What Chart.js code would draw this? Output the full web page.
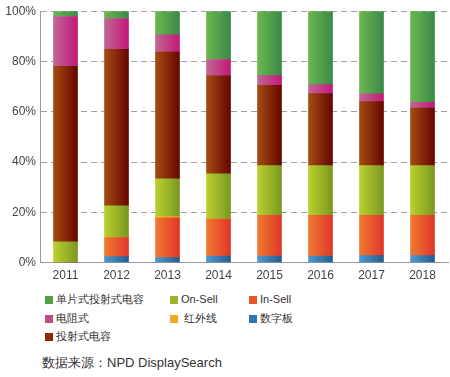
<!DOCTYPE html>
<html>
<head>
<meta charset="utf-8">
<script src="https://cdn.jsdelivr.net/npm/chart.js@4.4.0/dist/chart.umd.min.js"></script>
<style>
  body { margin: 0; background: #fff; font-family: "Liberation Sans", Arial, sans-serif; }
  #wrap { position: relative; width: 450px; height: 377px; overflow: hidden; }
  #stack-chart { position: absolute; left: 0; top: 0; }
  .leg { position: absolute; font-size: 11px; color: #333; line-height: 12px; white-space: nowrap; }
  .leg i { display: inline-block; width: 8px; height: 8px; margin-right: 3px; vertical-align: -1px; }
  #source { position: absolute; left: 42px; top: 354px; font-size: 13px; color: #333; white-space: nowrap; }
</style>
</head>
<body>
<div id="wrap">
  <canvas id="stack-chart" width="450" height="292"></canvas>
  <div id="legend"></div>
  <div id="source">数据来源：NPD DisplaySearch</div>
</div>
<script>
// years on the x axis
var years = ['2011', '2012', '2013', '2014', '2015', '2016', '2017', '2018'];

// share of each technology (%), stacked bottom -> top
var digitizer  = [0,    2.4,  2.0,  2.6,  2.6,  2.6,  2.8,  2.8];   // 数字板
var inCell     = [0,    7.6,  15.8, 14.7, 16.2, 16.2, 16.0, 16.0];  // In-Sell
var infrared   = [0,    0,    0.5,  0,    0,    0,    0,    0];     // 红外线
var onCell     = [8.3,  12.6, 15.0, 18.0, 19.8, 19.8, 19.8, 19.8];  // On-Sell
var projected  = [69.8, 62.2, 50.4, 39.0, 31.9, 28.6, 25.4, 22.9];  // 投射式电容
var resistive  = [19.8, 12.3, 6.9,  6.5,  3.9,  3.6,  3.1,  2.3];   // 电阻式
var singleLayer = [2.1, 2.9,  9.4,  19.2, 25.6, 29.2, 32.9, 36.2];  // 单片式投射式电容

var yTicks = [0, 20, 40, 60, 80, 100];

var BAR_W = 24;

// horizontal gradient across each bar
function grad(c1, c2) {
  return function(context) {
    var chart = context.chart;
    var xs = chart.scales.x;
    if (!chart.chartArea || !xs) return c1;
    var x = xs.getPixelForValue(context.dataIndex);
    var g = chart.ctx.createLinearGradient(x - BAR_W / 2, 0, x + BAR_W / 2, 0);
    g.addColorStop(0, c1);
    g.addColorStop(1, c2);
    return g;
  };
}

var series = [
  { label: '数字板', data: digitizer, c1: '#4f98d0', c2: '#245d8e', sw: '#2f77b2' },
  { label: 'In-Sell', data: inCell, c1: '#f07a30', c2: '#e0362a', sw: '#ea5428' },
  { label: '红外线', data: infrared, c1: '#f6c030', c2: '#eea020', sw: '#f0aa20' },
  { label: 'On-Sell', data: onCell, c1: '#bcd030', c2: '#7a9820', sw: '#9cb42a' },
  { label: '投射式电容', data: projected, c1: '#a44c12', c2: '#660600', sw: '#8a2a08' },
  { label: '电阻式', data: resistive, c1: '#c06894', c2: '#c21878', sw: '#c04a86' },
  { label: '单片式投射式电容', data: singleLayer, c1: '#6cb650', c2: '#3a8a48', sw: '#4ea244' }
];

var ctx = document.getElementById('stack-chart').getContext('2d');

var chart = new Chart(ctx, {
  type: 'bar',
  data: {
    labels: years,
    datasets: series.map(function(s) {
      return {
        label: s.label,
        data: s.data,
        backgroundColor: grad(s.c1, s.c2),
        borderWidth: 0,
        barThickness: BAR_W
      };
    })
  },
  options: {
    responsive: false,
    animation: false,
    devicePixelRatio: 1,
    layout: { padding: { top: 3, right: 2, left: 0, bottom: 3 } },
    plugins: {
      legend: { display: false },
      tooltip: { enabled: false }
    },
    scales: {
      x: {
        stacked: true,
        grid: { display: false, drawTicks: false },
        border: { color: '#9a9a9a', width: 1 },
        ticks: {
          color: '#444',
          padding: 6,
          font: { family: 'Liberation Sans, Arial', size: 12 }
        }
      },
      y: {
        stacked: true,
        min: 0,
        max: 100,
        afterFit: function(scale) { scale.width = 40; },
        afterBuildTicks: function(scale) {
          scale.ticks = yTicks.map(function(v) { return { value: v }; });
        },
        grid: {
          color: function(c) { return c.tick && c.tick.value === 0 ? 'rgba(0,0,0,0)' : '#a0a0a0'; },
          drawTicks: false,
          lineWidth: 1
        },
        border: { color: '#9a9a9a', width: 1, dash: [6, 4] },
        ticks: {
          color: '#444',
          padding: 4,
          font: { family: 'Liberation Sans, Arial', size: 12 },
          callback: function(v) { return v + '%'; }
        }
      }
    }
  }
});

// legend in three columns like the original figure
var legendPos = [
  { i: 6, left: 45, top: 293 },
  { i: 3, left: 170, top: 293 },
  { i: 1, left: 249, top: 293 },
  { i: 5, left: 45, top: 312 },
  { i: 2, left: 170, top: 312 },
  { i: 0, left: 249, top: 312 },
  { i: 4, left: 45, top: 330 }
];
var legend = document.getElementById('legend');
legendPos.forEach(function(p) {
  var s = series[p.i];
  var el = document.createElement('div');
  el.className = 'leg';
  el.style.left = p.left + 'px';
  el.style.top = p.top + 'px';
  el.innerHTML = '<i style="background:' + s.sw + '"></i>' + (p.i === 2 ? '&nbsp;' : '') + s.label;
  legend.appendChild(el);
});
</script>
</body>
</html>
